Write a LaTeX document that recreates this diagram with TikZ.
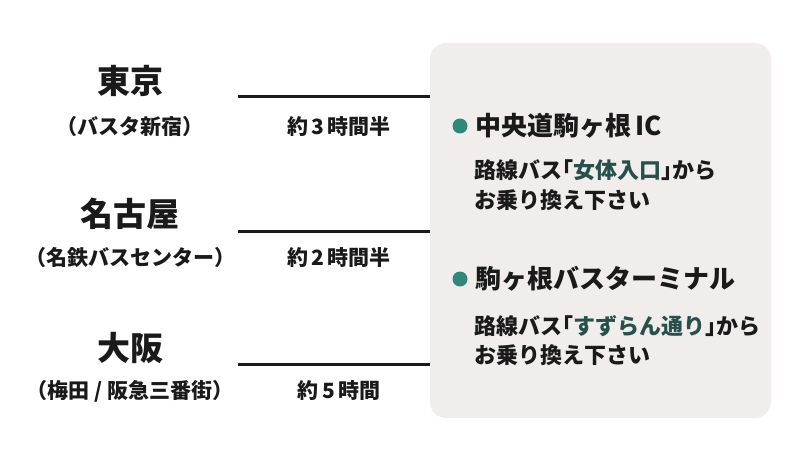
\documentclass[tikz,border=0pt]{standalone}
\usepackage{fontspec}
\setmainfont{Noto Sans CJK JP}
\definecolor{boxbg}{HTML}{F0EDEC}
\definecolor{teal1}{HTML}{2E8A78}
\definecolor{teal2}{HTML}{25504B}
\definecolor{ink}{HTML}{1A1A1A}
\newcommand{\hb}[1]{{\addfontfeature{RawFeature=+halt}#1}}
\tikzset{
  city/.style={font=\fontsize{33}{35}\selectfont\bfseries, text=ink, inner sep=0pt},
  sub/.style={font=\fontsize{21}{23}\selectfont\bfseries, text=ink, inner sep=0pt},
  head/.style={font=\fontsize{26}{28}\selectfont\bfseries, text=ink, inner sep=0pt, anchor=west},
  body/.style={font=\fontsize{22}{24}\selectfont\bfseries, text=ink, inner sep=0pt, anchor=west},
  route/.style={line width=3pt, ink},
  dot/.style={circle, fill=teal1, minimum size=15pt, inner sep=0pt},
}
\begin{document}
\begin{tikzpicture}[x=1pt,y=-1pt]
\useasboundingbox (0,0) rectangle (800,465);
\fill[boxbg, rounded corners=16pt] (430,43) rectangle (771,418);
% left side
\node[city] (tokyo) at (130,81) {東京};
\node[sub] (tokyosub) at (130,127) {（バスタ新宿）};
\node[sub] (t1) at (339,127) {約\,3\,時間半};
\coordinate (l1a) at (238,97);
\coordinate (l1b) at (430,97);
\draw[route] (l1a) -- (l1b);

\node[city] (nagoya) at (130,214) {名古屋};
\node[sub] (nagoyasub) at (130,258) {（名鉄バスセンター）};
\node[sub] (t2) at (339,258) {約\,2\,時間半};
\coordinate (l2a) at (238,231);
\coordinate (l2b) at (430,231);
\draw[route] (l2a) -- (l2b);

\node[city] (osaka) at (130,348) {大阪};
\node[sub] (osakasub) at (130,391) {（梅田 / 阪急三番街）};
\node[sub] (t3) at (339,391) {約\,5\,時間};
\coordinate (l3a) at (238,364);
\coordinate (l3b) at (430,364);
\draw[route] (l3a) -- (l3b);

% right side
\node[dot] (d1) at (460,126) {};
\node[head] (h1) at (475,126) {中央道駒ヶ根\,IC};
\node[body] (b1a) at (474,170) {路線バス\hb{「}\textcolor{teal2}{女体入口}\hb{」}から};
\node[body] (b1b) at (474,200) {お乗り換え下さい};

\node[dot] (d2) at (460,279) {};
\node[head] (h2) at (475,279) {駒ヶ根バスターミナル};
\node[body] (b2a) at (474,326) {路線バス\hb{「}\textcolor{teal2}{すずらん通り}\hb{」}から};
\node[body] (b2b) at (474,355) {お乗り換え下さい};
\end{tikzpicture}
\end{document}
